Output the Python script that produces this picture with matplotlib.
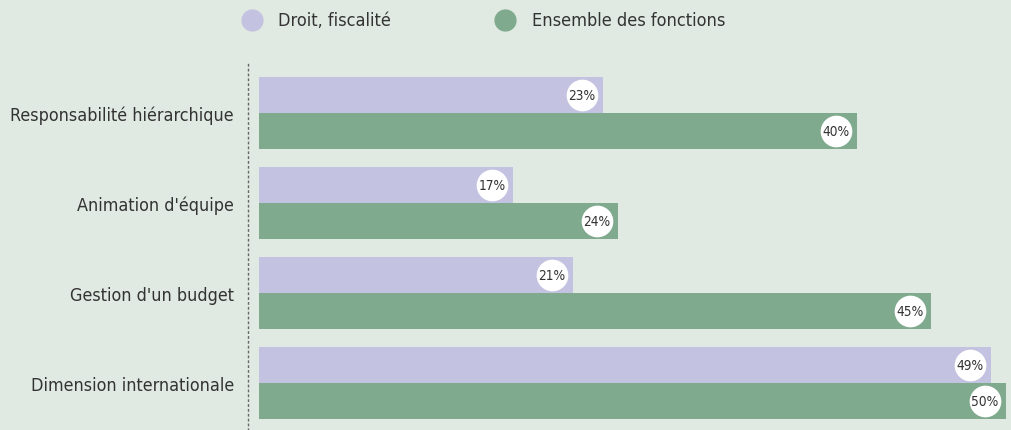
import matplotlib
matplotlib.use('Agg')
import matplotlib.pyplot as plt
from matplotlib.lines import Line2D

categories = ['Responsabilité hiérarchique', "Animation d'équipe",
              "Gestion d'un budget", 'Dimension internationale']
droit = [23, 17, 21, 49]
ensemble = [40, 24, 45, 50]
series_names = ['Droit, fiscalité', 'Ensemble des fonctions']

bg = '#e0eae2'
purple = '#c3c3e1'
green = '#80aa8e'
txt = '#333333'

plt.rcParams['font.family'] = ['DejaVu Sans']
plt.rcParams['font.stretch'] = 'condensed'

fig = plt.figure(figsize=(10.12, 4.31), dpi=100, facecolor=bg)
ax = fig.add_axes([248 / 1012, 0, 1 - 248 / 1012, 369 / 431])
ax.set_facecolor(bg)

px = 14.94  # pixels per percent
ypos = list(range(len(categories)))
ax.barh([y - 0.2 for y in ypos], droit, height=0.4, color=purple)
ax.barh([y + 0.2 for y in ypos], ensemble, height=0.4, color=green)

# white value badges near the end of each bar
off = 21 / px
for y, a, b in zip(ypos, droit, ensemble):
    for val, yy in ((a, y - 0.2), (b, y + 0.2)):
        ax.scatter(val - off, yy, s=520, color='white', zorder=3, linewidths=0)
        ax.text(val - off, yy, f'{val}%', ha='center', va='center',
                fontsize=9.8, color=txt, zorder=4)

ax.set_xlim(-11 / px, (1012 - 259) / px)
ax.set_ylim((431 - 114) / 90, -52 / 90)
ax.set_yticks(ypos)
ax.set_yticklabels(categories, fontsize=12.9, color=txt)
ax.tick_params(axis='y', length=0, pad=10)
ax.set_xticks([])
for s in ['top', 'right', 'bottom']:
    ax.spines[s].set_visible(False)
ax.spines['left'].set_linestyle((0, (1, 2.5)))
ax.spines['left'].set_linewidth(1.0)
ax.spines['left'].set_color('#666666')

# legend along the top
for xm, xt, name, col in ((252, 278, series_names[0], purple),
                          (505, 532, series_names[1], green)):
    fig.add_artist(Line2D([xm / 1012], [1 - 21 / 431], marker='o', markersize=15,
                          color=col, linestyle='none', transform=fig.transFigure))
    fig.text(xt / 1012, 1 - 21 / 431, name, fontsize=13, color=txt,
             ha='left', va='center')

fig.savefig('out.png', dpi=100, facecolor=bg)
